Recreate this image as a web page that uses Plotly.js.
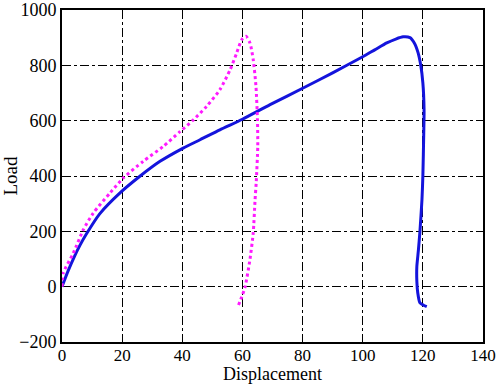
<!DOCTYPE html>
<html>
<head>
<meta charset="utf-8">
<script src="https://cdn.plot.ly/plotly-3.0.1.min.js"></script>
<style>html,body{margin:0;padding:0;background:#fff;}#chart{width:500px;height:384px;}</style>
</head>
<body>
<div id="chart"></div>
<script>
// Solid blue series
const blueX = [0, 2, 4, 6, 8.2, 12.6, 19.3, 25.9, 32.6, 40.3, 45.9, 52.5, 60, 69.2, 80.2, 90, 100, 104, 108, 111, 113.4, 115.7, 117.2, 118.4, 119.3, 120, 120.4, 120.3, 120, 119.7, 119, 118.5, 118, 118, 118.3, 119, 120.2, 121.3];
const blueY = [0, 56, 106, 150, 192, 264, 339, 399, 453, 501, 531, 567, 605, 658, 718, 773, 831, 856, 881, 895, 903, 900, 880, 846, 800, 737, 640, 556, 400, 314, 195, 130, 73, 20, -22, -58, -67, -72];
// Dotted magenta series
const pinkX = [0, 0.4, 3.8, 7.1, 10.4, 16, 20.4, 27, 33.7, 39.2, 43.7, 48.1, 52.5, 55.9, 58.1, 59.8, 61.2, 62.5, 63.6, 64.5, 65, 65.1, 64.6, 64.2, 63.6, 62.5, 60.9, 59.8, 58.6];
const pinkY = [0, 49, 122, 206, 266, 339, 393, 453, 507, 560, 603, 652, 712, 784, 845, 893, 905, 881, 820, 724, 603, 507, 380, 314, 195, 98, 0, -36, -69];

const serif = "Liberation Serif";

const traces = [
  {x: blueX, y: blueY, type: 'scatter', mode: 'lines', line: {color: '#1414dc', width: 3, shape: 'spline', smoothing: 0.6}, hoverinfo: 'skip'},
  {x: pinkX, y: pinkY, type: 'scatter', mode: 'lines', line: {color: '#ff1aff', width: 3, dash: 'dot', shape: 'spline', smoothing: 0.6}, hoverinfo: 'skip'}
];

function axis(extra) {
  return Object.assign({
    showline: true, linecolor: '#000', linewidth: 2, mirror: true,
    showgrid: true, gridcolor: '#000', griddash: 'dashdot', gridwidth: 1,
    zeroline: false, ticks: '',
    tickfont: {family: serif, size: 18, color: '#000'}
  }, extra);
}

const layout = {
  width: 500, height: 384,
  font: {family: serif, size: 18, color: '#000'},
  margin: {l: 62, r: 17, t: 10, b: 42},
  paper_bgcolor: '#fff', plot_bgcolor: '#fff',
  showlegend: false,
  xaxis: axis({
    range: [0, 140], tickvals: [0, 20, 40, 60, 80, 100, 120, 140],
    tickfont: {family: serif, size: 17, color: '#000'},
    ticklabelstandoff: -3,
    title: {text: 'Displacement', font: {family: serif, size: 18, color: '#000'}, standoff: 3}
  }),
  yaxis: axis({
    range: [-200, 1000], tickvals: [-200, 0, 200, 400, 600, 800, 1000],
    ticktext: ['\u2212200', '0', '200', '400', '600', '800', '1000'],
    title: {text: 'Load', font: {family: serif, size: 19, color: '#000'}, standoff: 4}
  })
};

Plotly.newPlot('chart', traces, layout, {staticPlot: true, displayModeBar: false});
</script>
</body>
</html>
